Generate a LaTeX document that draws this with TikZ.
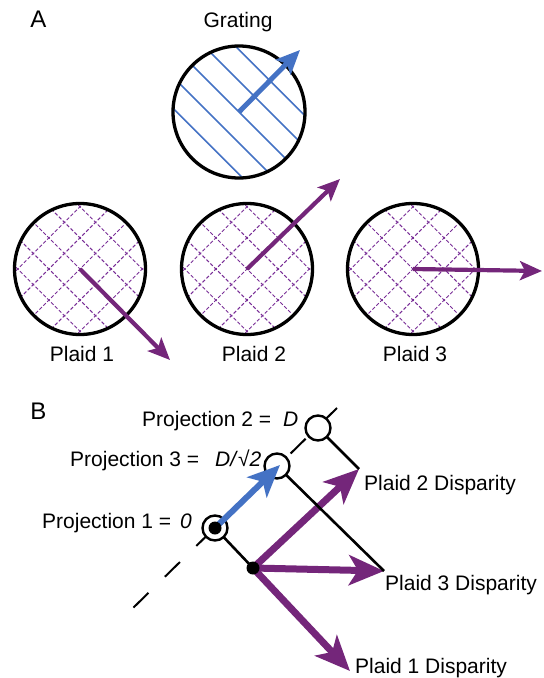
\documentclass[tikz,border=0pt]{standalone}
\usepackage{fontspec}
\setmainfont{Liberation Sans}
\usetikzlibrary{arrows.meta,calc}
\definecolor{plaidpurple}{RGB}{116,38,122}
\definecolor{hatchpurple}{RGB}{120,45,150}
\definecolor{gratingblue}{RGB}{68,114,196}
\tikzset{
  lbl/.style={font=\fontsize{21bp}{25bp}\selectfont, inner sep=0pt},
  panellbl/.style={font=\fontsize{24bp}{28bp}\selectfont, inner sep=0pt},
  ring/.style={circle, draw=black, line width=3.3bp, inner sep=0pt, minimum size=131bp},
  hatchA/.style={draw=gratingblue, line width=1.6bp},
  hatchP/.style={draw=hatchpurple, line width=1bp, dash pattern=on 3.5bp off 2bp},
  arrA/.style={draw=plaidpurple, line width=4.2bp, -{Stealth[length=22bp,width=19bp,inset=5bp]}},
  arrG/.style={draw=gratingblue, line width=5bp, -{Stealth[length=24bp,width=21bp,inset=5bp]}},
  arrBblue/.style={draw=gratingblue, line width=6bp, -{Stealth[length=32bp,width=28bp,inset=8bp]}},
  arrBpurple/.style={draw=plaidpurple, line width=7bp, -{Stealth[length=35bp,width=30bp,inset=9bp]}},
  projcirc/.style={circle, draw=black, fill=white, line width=2.4bp, inner sep=0pt, minimum size=25bp},
  blackdot/.style={circle, fill=black, inner sep=0pt, minimum size=13bp},
  axisline/.style={draw=black, line width=2bp, dash pattern=on 21bp off 23bp},
  perpline/.style={draw=black, line width=2.6bp},
}
\begin{document}
\begin{tikzpicture}[x=1bp, y=-1bp]
\useasboundingbox (0,0) rectangle (544,678);

% ---------------- Panel A ----------------
\node[panellbl] (labA) at (38.5,19) {A};
\node[lbl, anchor=base] (gratlbl) at (238,28) {Grating};

% grating hatching
\begin{scope}
  \clip (239,112) circle[radius=66bp];
  \foreach \k in {-2,...,2} {
    \draw[hatchA, shift={(239,112)}] (15.556*\k-60, -15.556*\k-60) -- (15.556*\k+60, -15.556*\k+60);
  }
\end{scope}
\node[ring, minimum size=132bp] (grating) at (239,112) {};

% plaid hatching
\foreach \cx/\nm in {80/plaidone, 247/plaidtwo, 413/plaidthree} {
  \begin{scope}
    \clip (\cx,269) circle[radius=65bp];
    \foreach \k in {-2,...,2} {
      \draw[hatchP, shift={(\cx,269)}] (15.556*\k-60, -15.556*\k-60) -- (15.556*\k+60, -15.556*\k+60);
      \draw[hatchP, shift={(\cx,269)}] (15.556*\k-60, 15.556*\k+60) -- (15.556*\k+60, 15.556*\k-60);
    }
  \end{scope}
  \node[ring] (\nm) at (\cx,269) {};
}

\coordinate (gtip) at (300,50);
\coordinate (tipone) at (170,360);
\coordinate (tiptwo) at (340,179);
\coordinate (tipthree) at (542,271);
\draw[arrG] (grating.center) -- (gtip);
\draw[arrA] (plaidone.center) -- (tipone);
\draw[arrA] (plaidtwo.center) -- (tiptwo);
\draw[arrA] (plaidthree.center) -- (tipthree);

\node[lbl, anchor=base] (plaidonelbl) at (82,361) {Plaid 1};
\node[lbl, anchor=base] (plaidtwolbl) at (254,361) {Plaid 2};
\node[lbl, anchor=base] (plaidthreelbl) at (415,361) {Plaid 3};

% ---------------- Panel B ----------------
\node[panellbl] (labB) at (38.5,411) {B};

\coordinate (pone) at (215,528);
\coordinate (ptwo) at (318,428);
\coordinate (pthree) at (277,466);
\coordinate (q) at (253,568);
\coordinate (axtop) at (337,408);
\coordinate (axbot) at (132,609);
\coordinate (dtwo) at (359,469);
\coordinate (dthree) at (384,571);
\coordinate (done) at (350,671);
\coordinate (btip) at (280,465);

\draw[axisline] (axtop) -- (axbot);
\draw[perpline] (pone) -- (q);

\draw[arrBpurple] (q) -- (dtwo);
\draw[arrBpurple] (q) -- (dthree);
\draw[arrBpurple] (q) -- (done);

\draw[perpline] (ptwo) -- (dtwo);
\draw[perpline] (pthree) -- (dthree);

\node[projcirc] (projone) at (pone) {};
\node[projcirc] (projtwo) at (ptwo) {};
\node[projcirc] (projthree) at (pthree) {};

\draw[arrBblue] (projone.center) -- (btip);
\node[blackdot] (projonedot) at (pone) {};
\node[blackdot] (qdot) at (q) {};

\node[lbl, anchor=base west] (projtwolbl) at (142,426) {Projection 2 =\hspace{12bp}\textit{D}};
\node[lbl, anchor=base west] (projthreelbl) at (70,466) {Projection 3 =\hspace{16bp}\textit{D/}√\textit{2}};
\node[lbl, anchor=base west] (projonelbl) at (42,528) {Projection 1 =\hspace{9bp}\textit{0}};

\node[lbl, anchor=base west] (dtwolbl) at (364,490) {Plaid 2 Disparity};
\node[lbl, anchor=base west] (dthreelbl) at (385,590) {Plaid 3 Disparity};
\node[lbl, anchor=base west] (donelbl) at (355,673) {Plaid 1 Disparity};
\end{tikzpicture}
\end{document}
